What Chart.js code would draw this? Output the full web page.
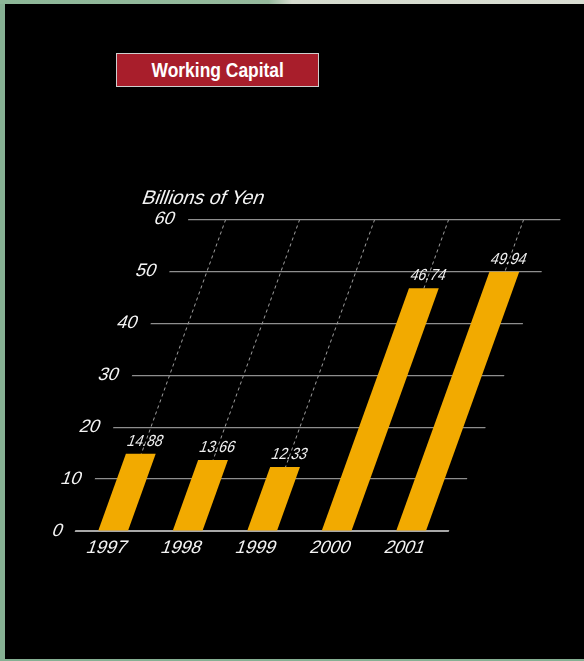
<!DOCTYPE html>
<html>
<head>
<meta charset="utf-8">
<script src="https://cdn.jsdelivr.net/npm/chart.js@4.4.1/dist/chart.umd.min.js"></script>
<style>
  html, body { margin: 0; padding: 0; }
  body { width: 584px; height: 661px; position: relative; overflow: hidden; background: #86b093; }
  #topband { position: absolute; left: 0; top: 0; width: 584px; height: 4px;
    background: linear-gradient(90deg, #8db798 0%, #95b99c 46%, #d5dbce 50%, #d9ddd2 100%); }
  #board { position: absolute; left: 5px; top: 4px; right: 0; bottom: 2px; background: #000; }
  #chart { position: absolute; left: 0; top: 0; }
  #title { position: absolute; left: 116px; top: 53px; width: 201px; height: 32px;
    border: 1px solid #cfcfcf; background: #a81e2b; color: #fff; text-align: center;
    font: bold 21px "Liberation Sans", Arial, sans-serif; line-height: 32px; }
  #title span { display: inline-block; transform: scaleX(0.83); }
</style>
</head>
<body>
<div id="topband"></div>
<div id="board"></div>
<canvas id="chart" width="584" height="661"></canvas>
<div id="title"><span>Working Capital</span></div>
<script>
// Working capital, billions of yen
var years = ['1997', '1998', '1999', '2000', '2001'];
var workingCapital = [14.88, 13.66, 12.33, 46.74, 49.94];
var yMin = 0;
var yMax = 60;
var yStep = 10;
var unitLabel = 'Billions of Yen';

var SLANT = 0.36; // horizontal shift per pixel of height

// lean the whole drawing to the right, pivoting on the zero line
var shear = {
    id: 'shear',
    beforeDraw: function (chart) {
        var ctx = chart.ctx;
        var y0 = chart.chartArea.bottom;
        ctx.save();
        ctx.transform(1, 0, -SLANT, 1, SLANT * y0, 0);
    },
    afterDraw: function (chart) {
        chart.ctx.restore();
    }
};

var valueLabels = {
    id: 'valueLabels',
    afterDatasetsDraw: function (chart) {
        var ctx = chart.ctx;
        var meta = chart.getDatasetMeta(0);
        ctx.save();
        ctx.fillStyle = '#f0f0f0';
        ctx.font = '16px "Liberation Sans", Arial, sans-serif';
        ctx.textAlign = 'center';
        ctx.textBaseline = 'alphabetic';
        meta.data.forEach(function (bar, i) {
            ctx.save();
            ctx.translate(bar.x, bar.y - 8);
            ctx.scale(0.88, 1);
            ctx.fillText(workingCapital[i].toFixed(2), 0, 0);
            ctx.restore();
        });
        ctx.restore();
    }
};

var ctx = document.getElementById('chart').getContext('2d');
var chart = new Chart(ctx, {
    type: 'bar',
    data: {
        labels: years,
        datasets: [{
            label: 'Working Capital',
            data: workingCapital,
            backgroundColor: '#f2aa00',
            borderWidth: 0,
            categoryPercentage: 1,
            barPercentage: 0.4
        }]
    },
    options: {
        responsive: false,
        animation: false,
        events: [],
        layout: {
            padding: { top: 188, left: 23, right: 135.75, bottom: 90 }
        },
        plugins: {
            legend: { display: false },
            tooltip: { enabled: false },
            title: {
                display: true,
                text: unitLabel,
                align: 'start',
                color: '#f4f4f4',
                font: { family: '"Liberation Sans", Arial, sans-serif', size: 19.5, weight: 'normal', lineHeight: 1.1 },
                padding: { top: 0, bottom: 10 }
            }
        },
        scales: {
            x: {
                grid: {
                    offset: false,
                    drawTicks: false,
                    color: '#a0a0a0',
                    lineWidth: 1
                },
                // dash applies to the category grid lines only
                border: { display: true, color: '#a8a8a8', width: 2, dash: [3, 3] },
                ticks: {
                    color: '#f4f4f4',
                    padding: 6,
                    maxRotation: 0,
                    font: { family: '"Liberation Sans", Arial, sans-serif', size: 18 }
                },
                afterFit: function (scale) { scale.height = 40; }
            },
            y: {
                min: yMin,
                max: yMax,
                ticks: {
                    stepSize: yStep,
                    color: '#f4f4f4',
                    padding: 13,
                    font: { family: '"Liberation Sans", Arial, sans-serif', size: 18 }
                },
                grid: {
                    drawTicks: false,
                    color: function (c) { return c.tick && c.tick.value === 0 ? 'rgba(0,0,0,0)' : '#8e8e8e'; },
                    lineWidth: 1.2
                },
                border: { display: false },
                afterFit: function (scale) { scale.width = 52.75; }
            }
        }
    },
    plugins: [shear, valueLabels]
});
</script>
</body>
</html>
